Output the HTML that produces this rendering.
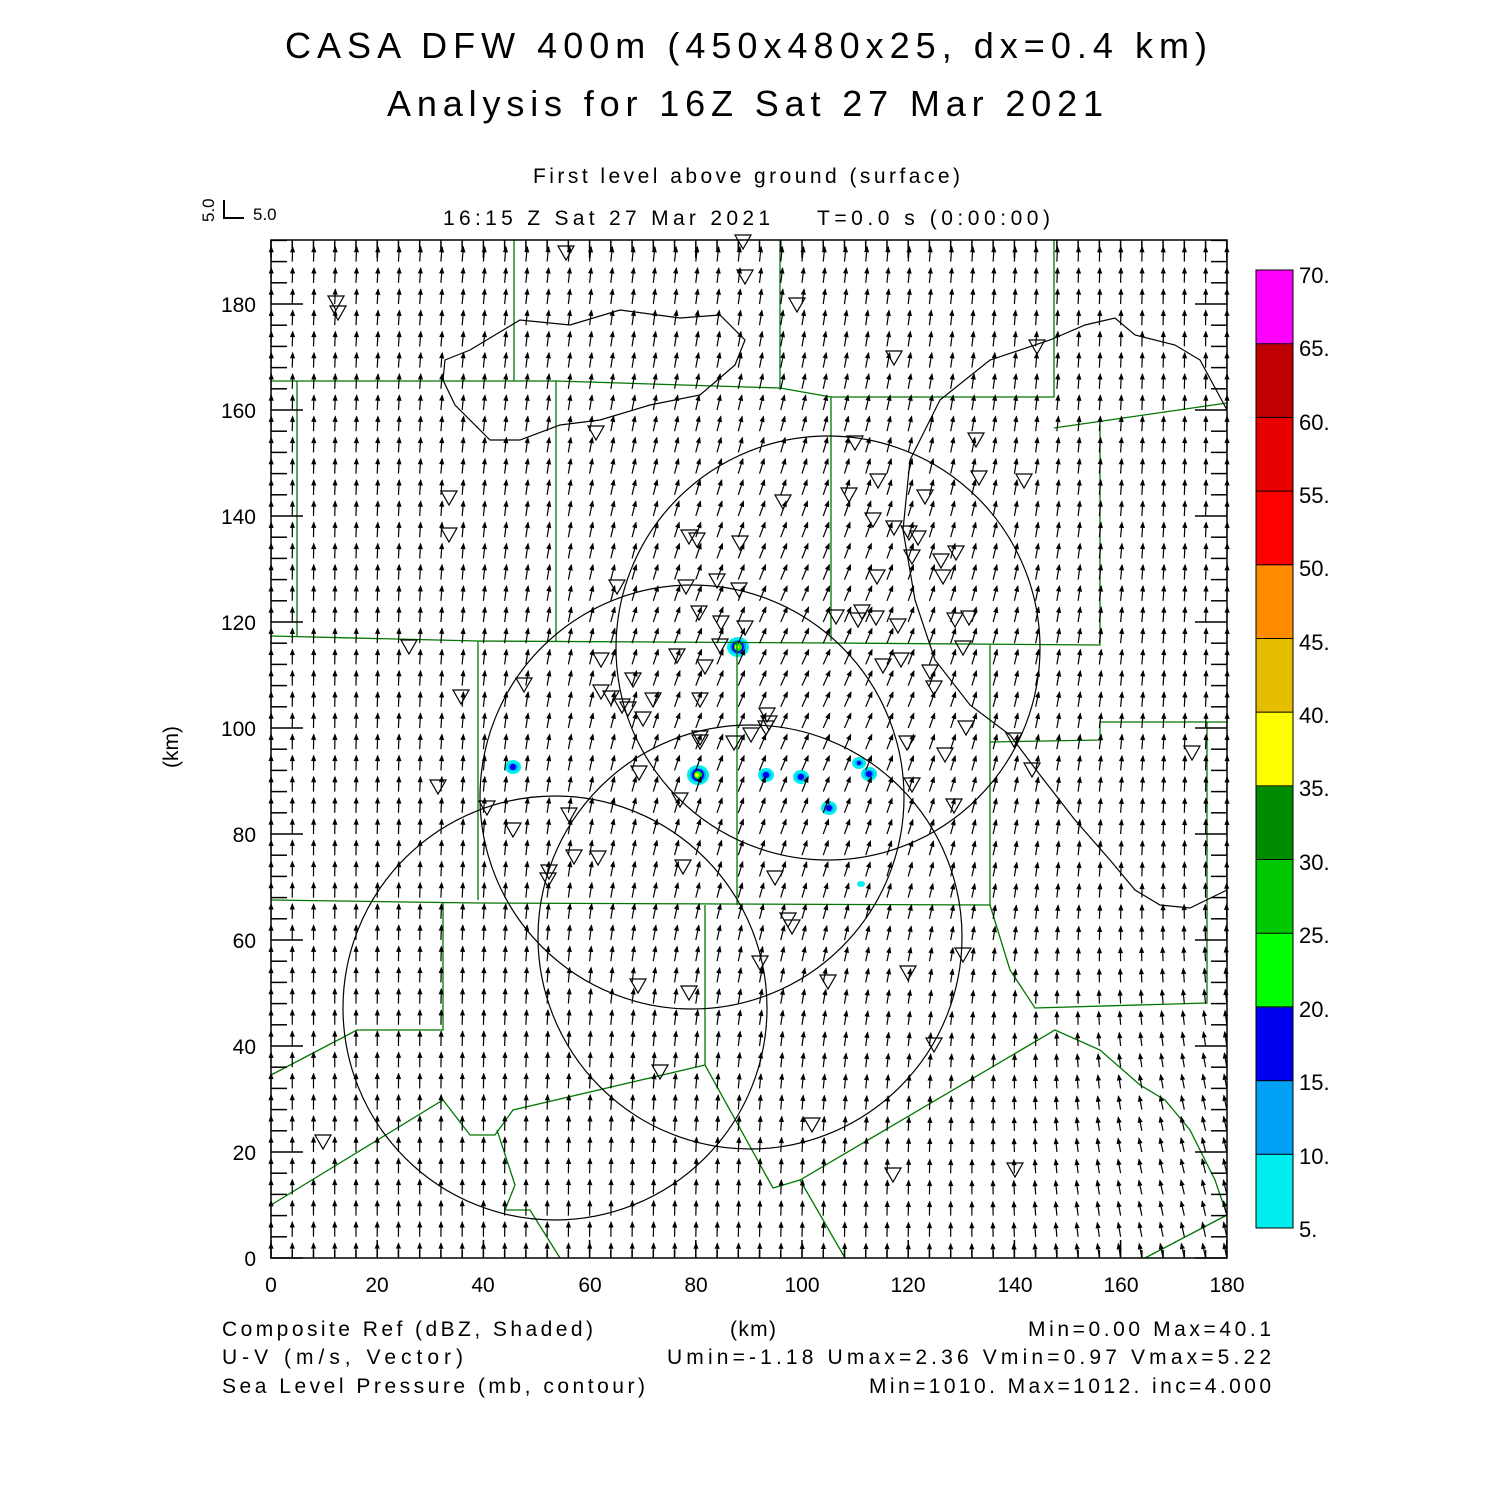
<!DOCTYPE html>
<html><head><meta charset="utf-8"><style>
body{margin:0;background:#fff;}
svg{display:block;font-family:"Liberation Sans",sans-serif;}
</style></head><body>
<svg id="s" width="1500" height="1500" viewBox="0 0 1500 1500" xmlns="http://www.w3.org/2000/svg">
<rect width="1500" height="1500" fill="#fff"/>
<g font-size="36" fill="#000" font-weight="300">
<text x="285" y="58" textLength="922" lengthAdjust="spacing">CASA DFW 400m (450x480x25, dx=0.4 km)</text>
<text x="387" y="116" textLength="716" lengthAdjust="spacing">Analysis for 16Z Sat 27 Mar 2021</text>
</g>
<g font-size="21" fill="#000">
<text x="533" y="183" textLength="427" lengthAdjust="spacing">First level above ground (surface)</text>
<text x="443" y="225" textLength="327" lengthAdjust="spacing">16:15 Z Sat 27 Mar 2021</text>
<text x="817" y="225" textLength="233" lengthAdjust="spacing">T=0.0 s (0:00:00)</text>
<text x="253" y="220" font-size="17">5.0</text>
<text x="214" y="222" font-size="17" transform="rotate(-90 214 222)">5.0</text>
<text x="222" y="1336" textLength="371" lengthAdjust="spacing">Composite Ref (dBZ, Shaded)</text>
<text x="222" y="1364" textLength="241" lengthAdjust="spacing">U-V (m/s, Vector)</text>
<text x="222" y="1393" textLength="423" lengthAdjust="spacing">Sea Level Pressure (mb, contour)</text>
<text x="730" y="1336" textLength="46" lengthAdjust="spacing">(km)</text>
<text x="1028" y="1336" textLength="243" lengthAdjust="spacing">Min=0.00 Max=40.1</text>
<text x="667" y="1364" textLength="604" lengthAdjust="spacing">Umin=-1.18 Umax=2.36 Vmin=0.97 Vmax=5.22</text>
<text x="869" y="1393" textLength="402" lengthAdjust="spacing">Min=1010. Max=1012. inc=4.000</text>
<text x="178" y="747" text-anchor="middle" transform="rotate(-90 178 747)">(km)</text>
</g>
<path d="M224 200 V218 H244" stroke="#000" stroke-width="2" fill="none"/>
<g font-size="21" fill="#000" text-anchor="middle">
<text x="271" y="1292">0</text><text x="377" y="1292">20</text><text x="483" y="1292">40</text><text x="590" y="1292">60</text><text x="696" y="1292">80</text><text x="802" y="1292">100</text><text x="908" y="1292">120</text><text x="1015" y="1292">140</text><text x="1121" y="1292">160</text><text x="1227" y="1292">180</text>
</g>
<g font-size="21" fill="#000" text-anchor="end">
<text x="256" y="1266">0</text><text x="256" y="1160">20</text><text x="256" y="1054">40</text><text x="256" y="948">60</text><text x="256" y="842">80</text><text x="256" y="736">100</text><text x="256" y="630">120</text><text x="256" y="524">140</text><text x="256" y="418">160</text><text x="256" y="312">180</text>
</g>
<g id="cb"></g>
<g font-size="22" fill="#000">
<text x="1299" y="283">70.</text><text x="1299" y="356">65.</text><text x="1299" y="430">60.</text><text x="1299" y="503">55.</text><text x="1299" y="576">50.</text><text x="1299" y="650">45.</text><text x="1299" y="723">40.</text><text x="1299" y="796">35.</text><text x="1299" y="870">30.</text><text x="1299" y="943">25.</text><text x="1299" y="1017">20.</text><text x="1299" y="1090">15.</text><text x="1299" y="1164">10.</text><text x="1299" y="1237">5.</text>
</g>
<g id="blobs"></g>
<g fill="none" stroke="#070" stroke-width="1.3">
<path d="M271 381 H445 L514 381 L556 381 L780 388 L831 397 H1054 V240 M514 240 V381 M780 240 V390 M297 381 V636 M556 381 V641 M831 397 V641 M271 636 L478 641 L831 643 L1100 645 V425 M1054 428 L1227 403 M478 641 V900 M737 641 V905 M271 900 L478 903 L990 905 V645 M990 742 L1100 740 V722 H1227 M1207 722 V1003 L1035 1008 L1010 970 L990 905 M705 905 V1065 M271 1205 L443 1100 L470 1135 L495 1135 L513 1110 L705 1065 L773 1188 L800 1180 L1055 1030 L1100 1050 L1140 1085 L1165 1100 L1190 1130 L1215 1180 L1227 1215 M271 1075 L357 1030 L443 1030 L443 903 M800 1180 L845 1258 M1145 1258 L1227 1215 M497 1130 L515 1185 L505 1210 L530 1210 L560 1258"/>
</g>
<g fill="none" stroke="#000" stroke-width="1.2">
<circle cx="828" cy="648" r="212"/>
<circle cx="692" cy="797" r="212"/>
<circle cx="750" cy="937" r="212"/>
<circle cx="555" cy="1008" r="212"/>
<path d="M1227 890 L1190 908 L1160 905 L1135 890 L1110 860 L1075 820 L1040 775 L1010 735 L970 705 L935 660 L915 600 L903 530 L910 460 L940 400 L990 360 L1050 340 L1085 325 L1115 318 L1135 335 L1175 345 L1200 360 L1227 410"/>
<path d="M445 360 L470 350 L520 320 L570 325 L620 310 L680 318 L720 315 L745 340 L735 365 L700 395 L650 405 L600 420 L560 425 L520 440 L490 440 L455 405 L443 380 Z"/>
</g>
<g id="arr" stroke="#000" fill="#000"></g>
<g id="tri" fill="none" stroke="#000" stroke-width="1.2"></g>
<rect x="271" y="240" width="956" height="1018" fill="none" stroke="#000" stroke-width="1.5"/>
<g id="ticks" stroke="#000" stroke-width="1.5"></g>
</svg>
<script>
var NS="http://www.w3.org/2000/svg";
function el(p,t,a){var e=document.createElementNS(NS,t);for(var k in a)e.setAttribute(k,a[k]);document.getElementById(p).appendChild(e);return e;}
var cols=["#00eeee","#00a0f5","#0000f0","#00ff00","#00c800","#008c00","#ffff00","#e6be00","#ff8c00","#ff0000","#e60000","#c00000","#ff00ff"];
var segH=(1228-270)/13;
for(var i=0;i<13;i++)el("cb","rect",{x:1256,y:1228-(i+1)*segH,width:37,height:segH+0.5,fill:cols[i]});
el("cb","rect",{x:1256,y:270,width:37,height:958,fill:"none",stroke:"#000","stroke-width":1});
for(var i=1;i<13;i++)el("cb","line",{x1:1256,x2:1293,y1:1228-i*segH,y2:1228-i*segH,stroke:"#000","stroke-width":1});
for(var i=0;i<=45;i++){var x=271+i*21.24;el("ticks","line",{x1:x,x2:x,y1:240,y2:i%5==0?258:250});el("ticks","line",{x1:x,x2:x,y1:1258,y2:i%5==0?1240:1250});}
for(var j=0;j<=48;j++){var y=1258-j*21.2;if(y<240)break;var L=(j%5==0)?32:16;el("ticks","line",{x1:271,x2:271+L,y1:y,y2:y});el("ticks","line",{x1:1227,x2:1227-L,y1:y,y2:y});}
for(var i=0;i<=45;i++)for(var j=0;j<48;j++){
 var kx=i*4,ky=j*4;
 var u=2.1*Math.exp(-((kx-100)*(kx-100)/2500+(ky-110)*(ky-110)/4000))-1.1*Math.exp(-((kx-175)*(kx-175)/900+(ky-15)*(ky-15)/1500))+0.3*Math.exp(-((kx-40)*(kx-40)/1500+(ky-180)*(ky-180)/1500));
 var v=4.6-0.6*Math.exp(-((kx-140)*(kx-140)/1500+(ky-40)*(ky-40)/1500));
 var s=3.2,x0=271+i*21.24,y0=1258-j*21.2;
 var x1=x0+u*s,y1=y0-v*s;
 el("arr","line",{x1:x0,y1:y0,x2:x1,y2:y1,"stroke-width":1.2});
 var m=Math.hypot(u,v),dx=u/m,dy=-v/m,h=5;
 el("arr","path",{d:"M"+x1+" "+y1+" L"+(x1-h*dx-2*dy)+" "+(y1-h*dy+2*dx)+" L"+(x1-h*dx+2*dy)+" "+(y1-h*dy-2*dx)+"Z","stroke-width":0.8});
}
var T=[[336,303],[338,313],[566,253],[743,242],[745,277],[797,305],[894,358],[1037,347],[596,433],[855,443],[976,440],[449,498],[449,535],[783,502],[849,495],[878,481],[979,478],[1024,481],[925,497],[873,520],[894,528],[909,533],[918,538],[689,537],[697,540],[740,543],[956,553],[941,561],[912,557],[877,577],[943,577],[617,587],[686,587],[717,581],[739,590],[699,613],[721,623],[745,628],[836,617],[862,612],[858,620],[876,618],[898,626],[955,620],[969,618],[963,648],[409,647],[601,660],[677,656],[705,667],[720,646],[883,666],[901,660],[930,672],[934,688],[461,697],[524,685],[601,692],[611,698],[622,706],[628,709],[643,719],[653,700],[633,680],[700,700],[767,715],[769,723],[766,728],[751,735],[734,743],[700,738],[700,742],[907,743],[966,728],[1014,740],[1032,770],[1192,753],[945,755],[438,787],[639,773],[912,785],[680,800],[487,808],[513,830],[569,815],[954,806],[549,872],[548,880],[574,857],[598,858],[683,867],[775,878],[788,920],[792,927],[760,963],[908,973],[963,955],[828,982],[638,986],[689,993],[934,1045],[660,1072],[812,1125],[323,1142],[893,1175],[1015,1170]];
T.forEach(function(p){var x=p[0],y=p[1];el("tri","path",{d:"M"+(x-8)+" "+(y-7)+" H"+(x+8)+" L"+x+" "+(y+7)+"Z"});});
var B=[[738,647,10],[513,767,7],[698,775,10],[766,775,7],[801,777,7],[829,808,7],[859,763,6],[869,774,7],[861,884,3]];
B.forEach(function(b){el("blobs","ellipse",{cx:b[0],cy:b[1],rx:b[2]+1,ry:b[2],fill:"#00eeee"});if(b[2]>4){el("blobs","ellipse",{cx:b[0],cy:b[1],rx:b[2]-2,ry:b[2]-3,fill:"#00a0f5"});el("blobs","ellipse",{cx:b[0],cy:b[1],rx:b[2]-4,ry:b[2]-4,fill:"#0000f0"});}if(b[2]>=10){el("blobs","ellipse",{cx:b[0],cy:b[1],rx:4,ry:4,fill:"#00ff00"});el("blobs","ellipse",{cx:b[0]-1,cy:b[1],rx:2,ry:2,fill:"#ffff00"});}});
</script>
</body></html>
